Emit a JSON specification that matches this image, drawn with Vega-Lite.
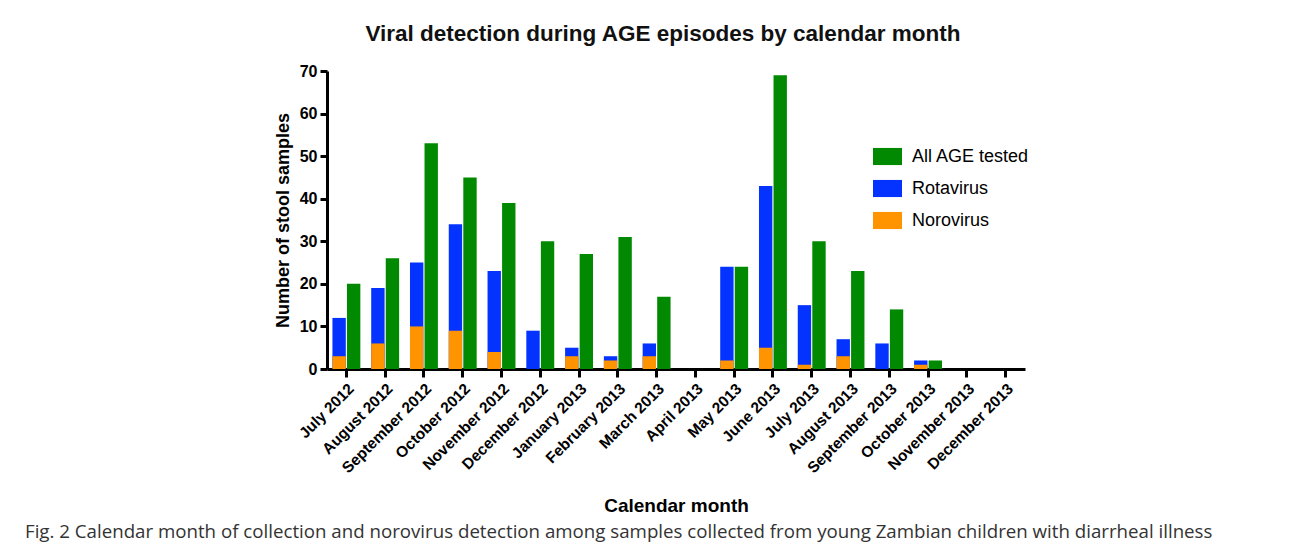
{
  "$schema": "https://vega.github.io/schema/vega-lite/v6.json",
  "padding": {"left": 25, "top": 22, "right": 5, "bottom": 5},
  "background": "white",
  "title": {
    "text": "Fig. 2 Calendar month of collection and norovirus detection among samples collected from young Zambian children with diarrheal illness",
    "orient": "bottom",
    "anchor": "start",
    "frame": "group",
    "dx": -302,
    "offset": 8,
    "font": "Open Sans",
    "fontSize": 18.7,
    "fontWeight": "normal",
    "color": "#333333"
  },
  "config": {
    "font": "Liberation Sans",
    "view": {"stroke": null},
    "concat": {"spacing": 0}
  },
  "vconcat": [
    {
      "title": {
        "text": "Viral detection during AGE episodes by calendar month",
        "font": "Liberation Sans",
        "fontSize": 22.5,
        "fontWeight": "bold",
        "color": "#111111",
        "anchor": "middle",
        "frame": "group",
        "dx": -13,
        "offset": 18
      },
      "width": 698,
      "height": 298,
      "data": {
        "values": [
          {"month": "July 2012", "group": "Viral", "series": "Rotavirus", "count": 12},
          {"month": "August 2012", "group": "Viral", "series": "Rotavirus", "count": 19},
          {"month": "September 2012", "group": "Viral", "series": "Rotavirus", "count": 25},
          {"month": "October 2012", "group": "Viral", "series": "Rotavirus", "count": 34},
          {"month": "November 2012", "group": "Viral", "series": "Rotavirus", "count": 23},
          {"month": "December 2012", "group": "Viral", "series": "Rotavirus", "count": 9},
          {"month": "January 2013", "group": "Viral", "series": "Rotavirus", "count": 5},
          {"month": "February 2013", "group": "Viral", "series": "Rotavirus", "count": 3},
          {"month": "March 2013", "group": "Viral", "series": "Rotavirus", "count": 6},
          {"month": "April 2013", "group": "Viral", "series": "Rotavirus", "count": 0},
          {"month": "May 2013", "group": "Viral", "series": "Rotavirus", "count": 24},
          {"month": "June 2013", "group": "Viral", "series": "Rotavirus", "count": 43},
          {"month": "July 2013", "group": "Viral", "series": "Rotavirus", "count": 15},
          {"month": "August 2013", "group": "Viral", "series": "Rotavirus", "count": 7},
          {"month": "September 2013", "group": "Viral", "series": "Rotavirus", "count": 6},
          {"month": "October 2013", "group": "Viral", "series": "Rotavirus", "count": 2},
          {"month": "November 2013", "group": "Viral", "series": "Rotavirus", "count": 0},
          {"month": "December 2013", "group": "Viral", "series": "Rotavirus", "count": 0},
          {"month": "July 2012", "group": "Viral", "series": "Norovirus", "count": 3},
          {"month": "August 2012", "group": "Viral", "series": "Norovirus", "count": 6},
          {"month": "September 2012", "group": "Viral", "series": "Norovirus", "count": 10},
          {"month": "October 2012", "group": "Viral", "series": "Norovirus", "count": 9},
          {"month": "November 2012", "group": "Viral", "series": "Norovirus", "count": 4},
          {"month": "December 2012", "group": "Viral", "series": "Norovirus", "count": 0},
          {"month": "January 2013", "group": "Viral", "series": "Norovirus", "count": 3},
          {"month": "February 2013", "group": "Viral", "series": "Norovirus", "count": 2},
          {"month": "March 2013", "group": "Viral", "series": "Norovirus", "count": 3},
          {"month": "April 2013", "group": "Viral", "series": "Norovirus", "count": 0},
          {"month": "May 2013", "group": "Viral", "series": "Norovirus", "count": 2},
          {"month": "June 2013", "group": "Viral", "series": "Norovirus", "count": 5},
          {"month": "July 2013", "group": "Viral", "series": "Norovirus", "count": 1},
          {"month": "August 2013", "group": "Viral", "series": "Norovirus", "count": 3},
          {"month": "September 2013", "group": "Viral", "series": "Norovirus", "count": 0},
          {"month": "October 2013", "group": "Viral", "series": "Norovirus", "count": 1},
          {"month": "November 2013", "group": "Viral", "series": "Norovirus", "count": 0},
          {"month": "December 2013", "group": "Viral", "series": "Norovirus", "count": 0},
          {"month": "July 2012", "group": "All", "series": "All AGE tested", "count": 20},
          {"month": "August 2012", "group": "All", "series": "All AGE tested", "count": 26},
          {"month": "September 2012", "group": "All", "series": "All AGE tested", "count": 53},
          {"month": "October 2012", "group": "All", "series": "All AGE tested", "count": 45},
          {"month": "November 2012", "group": "All", "series": "All AGE tested", "count": 39},
          {"month": "December 2012", "group": "All", "series": "All AGE tested", "count": 30},
          {"month": "January 2013", "group": "All", "series": "All AGE tested", "count": 27},
          {"month": "February 2013", "group": "All", "series": "All AGE tested", "count": 31},
          {"month": "March 2013", "group": "All", "series": "All AGE tested", "count": 17},
          {"month": "April 2013", "group": "All", "series": "All AGE tested", "count": 0},
          {"month": "May 2013", "group": "All", "series": "All AGE tested", "count": 24},
          {"month": "June 2013", "group": "All", "series": "All AGE tested", "count": 69},
          {"month": "July 2013", "group": "All", "series": "All AGE tested", "count": 30},
          {"month": "August 2013", "group": "All", "series": "All AGE tested", "count": 23},
          {"month": "September 2013", "group": "All", "series": "All AGE tested", "count": 14},
          {"month": "October 2013", "group": "All", "series": "All AGE tested", "count": 2},
          {"month": "November 2013", "group": "All", "series": "All AGE tested", "count": 0},
          {"month": "December 2013", "group": "All", "series": "All AGE tested", "count": 0}
        ]
      },
      "mark": {"type": "bar", "cornerRadius": 0},
      "encoding": {
        "x": {
          "field": "month",
          "type": "nominal",
          "sort": null,
          "scale": {"paddingInner": 0.28, "paddingOuter": 0.14},
          "axis": {
            "title": "Calendar month",
            "titleFont": "Liberation Sans",
            "titleFontSize": 19,
            "titleFontWeight": "bold",
            "titleColor": "#000000",
            "titlePadding": 20,
            "labelAngle": -45,
            "labelFontSize": 15.5,
            "labelFontWeight": "bold",
            "labelColor": "#000000",
            "labelPadding": 4,
            "domainColor": "#000000",
            "domainWidth": 3,
            "tickColor": "#000000",
            "tickWidth": 3,
            "tickSize": 8
          }
        },
        "xOffset": {
          "field": "group",
          "type": "nominal",
          "scale": {"domain": ["Viral", "All"], "paddingInner": 0.08}
        },
        "y": {
          "field": "count",
          "type": "quantitative",
          "stack": null,
          "scale": {"domain": [0, 70], "nice": false},
          "axis": {
            "title": "Number of stool samples",
            "titleFontSize": 18,
            "titleFontWeight": "bold",
            "titleColor": "#000000",
            "titlePadding": 7,
            "values": [0, 10, 20, 30, 40, 50, 60, 70],
            "grid": false,
            "labelFontSize": 16,
            "labelFontWeight": "bold",
            "labelColor": "#000000",
            "labelPadding": 3,
            "domainColor": "#000000",
            "domainWidth": 3,
            "tickColor": "#000000",
            "tickWidth": 3,
            "tickSize": 7
          }
        },
        "color": {
          "field": "series",
          "type": "nominal",
          "scale": {
            "domain": ["All AGE tested", "Rotavirus", "Norovirus"],
            "range": ["#018a01", "#0433ff", "#ff9300"]
          },
          "legend": {
            "title": null,
            "orient": "none",
            "legendX": 546,
            "legendY": 71,
            "padding": 0,
            "symbolType": "M-1,-0.59L1,-0.59L1,0.59L-1,0.59Z",
            "symbolSize": 841,
            "symbolStrokeWidth": 0,
            "rowPadding": 8,
            "labelFontSize": 18,
            "labelColor": "#000000",
            "labelOffset": 10
          }
        }
      }
    }
  ]
}
